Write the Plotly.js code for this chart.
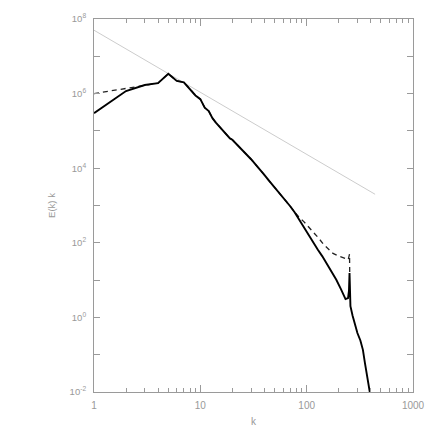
<!DOCTYPE html>
<html>
<head>
<meta charset="utf-8">
<script src="https://cdn.plot.ly/plotly-3.0.1.min.js"></script>
<style>html,body{margin:0;padding:0;background:#fff;}#chart{width:432px;height:432px;}</style>
</head>
<body>
<div id="chart"></div>
<script>
// Solid spectrum E(k) k
const kSolid = [1,2,3,4,5,6,7,8,9,10,11,12,13,14,15,16,17,18,19,20,22,24,26,28,30,33,36,40,44,48,53,58,64,70,77,85,94,104,115,127,140,155,170,190,210,232,245,250,253,255,258,270,285,300,320,338,353,372,395];
const eSolid = [3.0e5,1.17e6,1.70e6,1.91e6,3.39e6,2.19e6,2.0e6,1.32e6,8.9e5,7.1e5,4.2e5,3.4e5,2.2e5,1.66e5,1.35e5,1.12e5,9.1e4,7.4e4,6.3e4,5.8e4,4.4e4,3.3e4,2.6e4,2.1e4,1.74e4,1.26e4,9.1e3,6.6e3,4.7e3,3.5e3,2.5e3,1.8e3,1.35e3,955,660,417,263,158,105,66,44,27,17.4,10.2,5.75,3.1,3.3,5.2,15.5,2.1,2.0,1.12,0.60,0.38,0.24,0.135,0.060,0.024,0.0089];
// Dashed spectrum
const kDashed = [1,2,3,4,5,6,7,8,9,10,11,12,13,14,15,16,17,18,19,20,22,24,26,28,30,33,36,40,44,48,53,58,64,70,77,85,94,104,117,130,144,160,177,200,224,246,253,254];
const eDashed = [1.0e6,1.35e6,1.66e6,1.91e6,3.39e6,2.19e6,2.0e6,1.32e6,8.9e5,7.1e5,4.2e5,3.4e5,2.2e5,1.66e5,1.35e5,1.12e5,9.1e4,7.4e4,6.3e4,5.8e4,4.4e4,3.3e4,2.6e4,2.1e4,1.74e4,1.26e4,9.1e3,6.6e3,4.7e3,3.5e3,2.5e3,1.8e3,1.35e3,955,670,480,370,270,190,132,91,68,52,44,39,35.5,50,15.5];
// Reference k^-5/3 line endpoints
const kRef = [1,440];
const eRef = [5.0e7,2.0e3];
// Tick labels
const xTickVals = [1,10,100,1000];
const xTickText = ['1','10','100','1000'];
const xMinorVals = [2,3,4,5,6,7,8,9,20,30,40,50,60,70,80,90,200,300,400,500,600,700,800,900];
const yTickVals = [1e-2,1,1e2,1e4,1e6,1e8];
const yTickText = ['10<sup>-2</sup>','10<sup>0</sup>','10<sup>2</sup>','10<sup>4</sup>','10<sup>6</sup>','10<sup>8</sup>'];
const yMinorVals = [1e-1,1e1,1e3,1e5,1e7];

const axisCol = '#9a9a9a';
const txtCol = '#999999';
const fntX = {family:'Liberation Sans, Arial, sans-serif', size:10, color:txtCol};
const fntY = {family:'Liberation Sans, Arial, sans-serif', size:9.5, color:txtCol};

const traces = [
  {x:kRef, y:eRef, mode:'lines', line:{color:'#cccccc', width:1}, hoverinfo:'skip'},
  {x:kDashed, y:eDashed, mode:'lines', line:{color:'#222222', width:1.3, dash:'5px,4px'}, hoverinfo:'skip'},
  {x:kSolid, y:eSolid, mode:'lines', line:{color:'#000000', width:1.9}, hoverinfo:'skip'}
];

const layout = {
  width:432, height:432,
  margin:{l:94, r:19, t:19, b:40},
  paper_bgcolor:'#ffffff', plot_bgcolor:'#ffffff',
  showlegend:false,
  font:fntX,
  xaxis:{
    type:'log', range:[0,3], autorange:false,
    tickmode:'array', tickvals:xTickVals, ticktext:xTickText,
    ticks:'inside', ticklen:7, tickwidth:1, tickcolor:axisCol,
    minor:{tickmode:'array', tickvals:xMinorVals, ticks:'inside', ticklen:4, tickwidth:1, tickcolor:axisCol},
    showline:true, linecolor:axisCol, linewidth:1, mirror:'allticks',
    showgrid:false, zeroline:false,
    tickfont:fntX, ticklabelstandoff:4,
    title:{text:'k', font:fntX, standoff:7}
  },
  yaxis:{
    type:'log', range:[-2,8], autorange:false,
    tickmode:'array', tickvals:yTickVals, ticktext:yTickText,
    ticks:'inside', ticklen:6, tickwidth:1, tickcolor:axisCol,
    minor:{tickmode:'array', tickvals:yMinorVals, ticks:'inside', ticklen:6, tickwidth:1, tickcolor:axisCol},
    showline:true, linecolor:axisCol, linewidth:1, mirror:'allticks',
    showgrid:false, zeroline:false,
    tickfont:fntY, ticklabelstandoff:5,
    title:{text:'E(k) k', font:fntY, standoff:12}
  }
};

Plotly.newPlot('chart', traces, layout, {staticPlot:true, displayModeBar:false});
</script>
</body>
</html>
